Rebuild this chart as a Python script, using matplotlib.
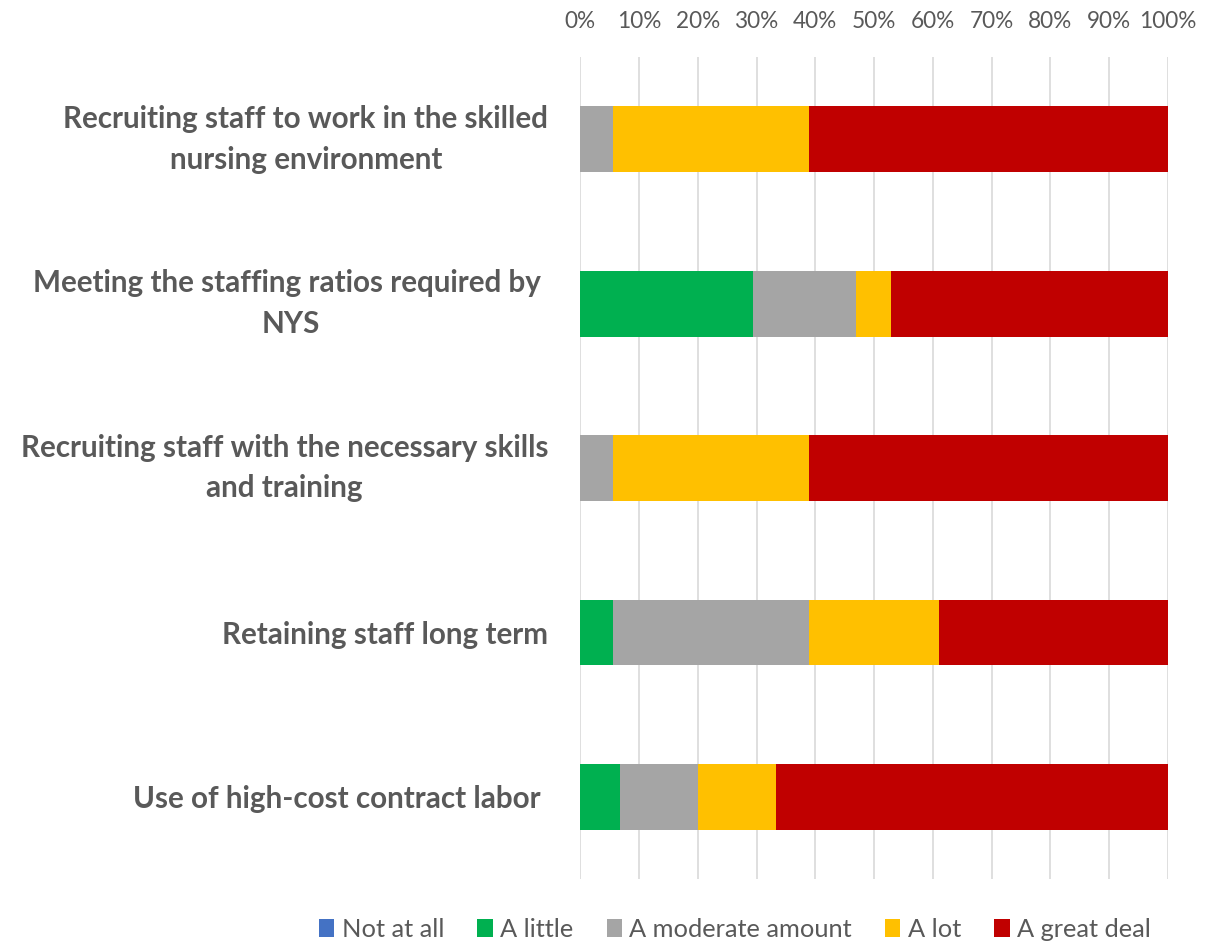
import matplotlib.pyplot as plt
import numpy as np
from matplotlib.ticker import PercentFormatter

plt.rcParams['font.family'] = ['Lato', 'DejaVu Sans']

categories = [
    "Recruiting staff to work in the skilled\nnursing environment",
    "Meeting the staffing ratios required by \nNYS",
    "Recruiting staff with the necessary skills\nand training",
    "Retaining staff long term",
    "Use of high-cost contract labor ",
]
responses = ["Not at all", "A little", "A moderate amount", "A lot", "A great deal"]

# percent of respondents per answer, one list per response
not_at_all = [0.0, 0.0, 0.0, 0.0, 0.0]
a_little = [0.0, 29.4, 0.0, 5.6, 6.7]
moderate = [5.6, 17.6, 5.6, 33.3, 13.3]
a_lot = [33.3, 5.9, 33.3, 22.2, 13.3]
great_deal = [61.1, 47.1, 61.1, 38.9, 66.7]

colors = ["#4472C4", "#00B050", "#A5A5A5", "#FFC000", "#C00000"]
text_color = "#595959"

fig = plt.figure(figsize=(12.19, 9.46), dpi=100)
ax = fig.add_axes([0.476, 0.0708, 0.482, 0.8689])

y = np.arange(len(categories))
left = np.zeros(len(categories))
for name, vals, c in zip(responses, [not_at_all, a_little, moderate, a_lot, great_deal], colors):
    ax.barh(y, vals, left=left, height=0.4, color=c, label=name, zorder=3)
    left += np.array(vals)

ax.set_ylim(4.5, -0.5)
ax.set_xlim(0, 100)
ax.set_xticks(np.arange(0, 101, 10))
ax.xaxis.set_major_formatter(PercentFormatter(decimals=0))
ax.xaxis.tick_top()
ax.tick_params(axis='x', length=0, labelsize=16.3, labelcolor=text_color, pad=18)
ax.grid(axis='x', color="#D9D9D9", linewidth=1.2, zorder=0)
for s in ax.spines.values():
    s.set_visible(False)

ax.set_yticks(y)
ax.set_yticklabels(categories, fontsize=21.3, fontweight='bold', color=text_color,
                   multialignment='center', linespacing=1.55)
for lbl in ax.get_yticklabels():
    if "\n" in lbl.get_text():
        lbl.set_verticalalignment('center')
ax.tick_params(axis='y', length=0, pad=23)

fig.legend(loc='lower center', bbox_to_anchor=(0.603, -0.019), ncol=5, frameon=False,
           fontsize=18.3, handlelength=0.6, handleheight=0.7, handletextpad=0.3,
           columnspacing=1.3, labelcolor=text_color)

fig.savefig("out.png", dpi=100)
